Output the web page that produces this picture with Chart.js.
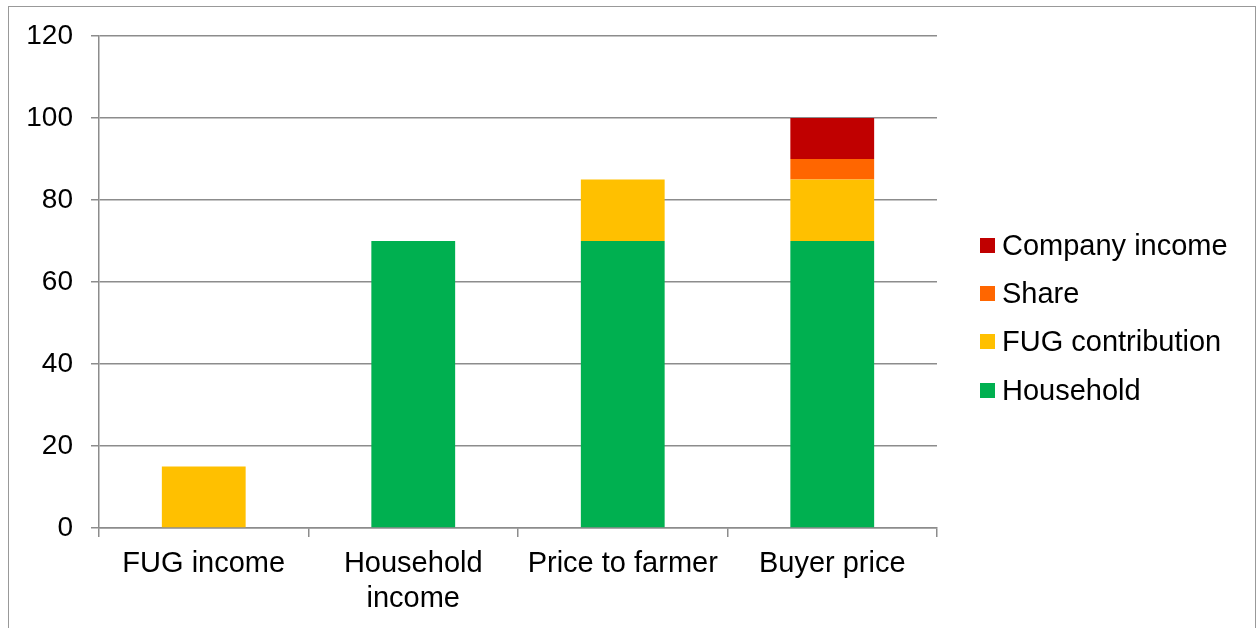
<!DOCTYPE html>
<html lang="en">
<head>
  <meta charset="UTF-8">
  <title>Price breakdown</title>
  <script src="https://cdn.jsdelivr.net/npm/chart.js"></script>
  <style>
    body {
      margin: 0;
      background: white;
      font-family: "Liberation Sans", Arial, sans-serif;
      overflow: hidden;
    }
    #wrap {
      position: relative;
      width: 1256px;
      height: 628px;
    }
    #chart {
      position: absolute;
      left: 0;
      top: 0;
    }
    .frame {
      position: absolute;
      left: 8px;
      top: 6px;
      width: 1246px;
      height: 700px;
      border: 1px solid #999;
      pointer-events: none;
    }
    #legend {
      position: absolute;
      left: 980px;
      top: 221px;
    }
    .item {
      display: flex;
      align-items: center;
      height: 48.4px;
      font-size: 29px;
      color: #000;
      white-space: nowrap;
    }
    .item span.box {
      width: 15px;
      height: 15px;
      margin-right: 7px;
    }
  </style>
</head>
<body>

<div id="wrap">
  <canvas id="chart" width="1256" height="628"></canvas>
  <div class="frame"></div>
  <div id="legend"></div>
</div>

<script>
  // categories (second one wraps onto two lines)
  const categories = ["FUG income", ["Household", "income"], "Price to farmer", "Buyer price"];

  // stacked series, bottom to top
  const household = [0, 70, 70, 70];
  const fugContribution = [15, 0, 15, 15];
  const share = [0, 0, 0, 5];
  const companyIncome = [0, 0, 0, 10];

  const yTicks = [0, 20, 40, 60, 80, 100, 120];

  const series = [
    { label: "Household", data: household, color: "#00B050" },
    { label: "FUG contribution", data: fugContribution, color: "#FFC000" },
    { label: "Share", data: share, color: "#FF6600" },
    { label: "Company income", data: companyIncome, color: "#C00000" }
  ];

  const gridColor = "#8c8c8c";
  const family = "'Liberation Sans', Arial, sans-serif";

  new Chart(document.getElementById("chart"), {
    type: "bar",
    data: {
      labels: categories,
      datasets: series.map(s => ({
        label: s.label,
        data: s.data,
        backgroundColor: s.color,
        barPercentage: 0.4,
        categoryPercentage: 1
      }))
    },
    options: {
      responsive: false,
      animation: false,
      layout: { padding: { top: 36, right: 319, left: 0, bottom: 0 } },
      plugins: {
        legend: { display: false },
        tooltip: { enabled: false }
      },
      scales: {
        x: {
          stacked: true,
          afterFit: s => { s.height = 100; },
          grid: { drawOnChartArea: false, color: gridColor, lineWidth: 1.5, tickLength: 9 },
          border: { color: gridColor, width: 1.5 },
          ticks: { color: "#000", font: { family, size: 29 }, padding: 10 }
        },
        y: {
          stacked: true,
          min: yTicks[0],
          max: yTicks[yTicks.length - 1],
          afterFit: s => { s.width = 99; },
          afterBuildTicks: s => { s.ticks = yTicks.map(v => ({ value: v })); },
          grid: { color: gridColor, lineWidth: 1.5, tickLength: 8 },
          border: { color: gridColor, width: 1.5 },
          ticks: { color: "#000", font: { family, size: 28 }, padding: 18 }
        }
      }
    }
  });

  // legend, top to bottom = reverse of stack order
  const legend = document.getElementById("legend");
  series.slice().reverse().forEach(s => {
    const row = document.createElement("div");
    row.className = "item";
    row.innerHTML = '<span class="box" style="background:' + s.color + '"></span>' + s.label;
    legend.appendChild(row);
  });
</script>

</body>
</html>
